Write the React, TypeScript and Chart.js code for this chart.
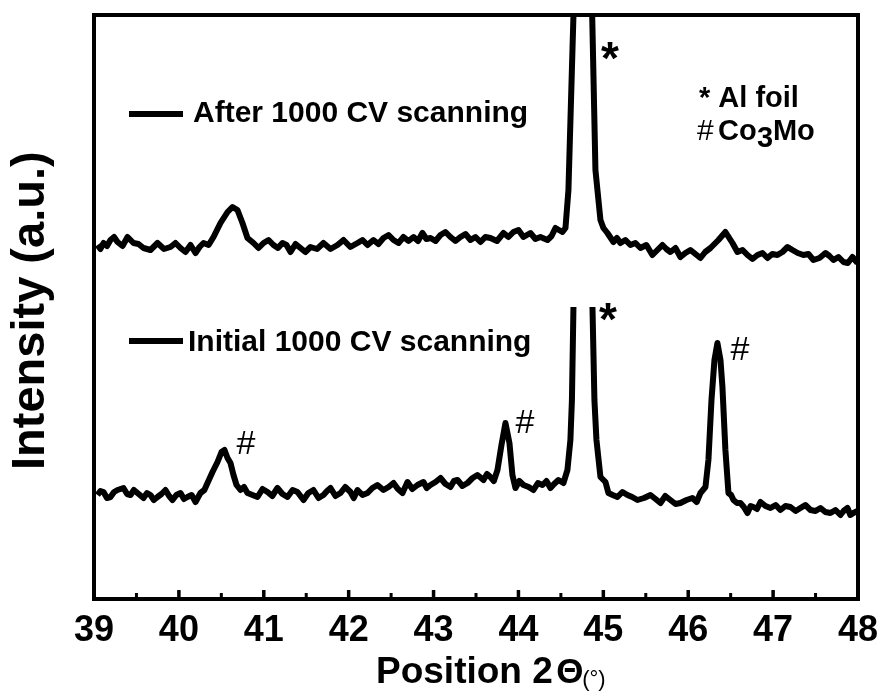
import React, { useEffect, useRef } from 'react';
import { Chart, registerables } from 'chart.js';

Chart.register(...registerables);

// ---------- data ----------
const X_MIN = 39;
const X_MAX = 48;
const xTickValues = [39, 40, 41, 42, 43, 44, 45, 46, 47, 48];

const afterLabel = 'After 1000 CV scanning';
const initialLabel = 'Initial 1000 CV scanning';

// [2θ (deg), intensity (a.u.)]
const afterScan: [number, number][] = [
  [39.041, 354], [39.076, 350], [39.112, 356], [39.153, 353], [39.194, 359], [39.236, 362], [39.277, 357], [39.336, 353], [39.395, 362], [39.430, 359],
  [39.465, 356], [39.524, 355], [39.583, 351], [39.665, 349], [39.748, 356], [39.825, 350], [39.901, 352], [39.960, 356], [40.019, 351], [40.078, 347],
  [40.137, 354], [40.196, 346], [40.243, 352], [40.290, 356], [40.350, 354], [40.408, 362], [40.490, 376], [40.573, 387], [40.631, 392], [40.690, 389],
  [40.749, 376], [40.808, 361], [40.879, 356], [40.938, 351], [40.997, 356], [41.056, 359], [41.114, 354], [41.167, 351], [41.220, 356], [41.268, 354],
  [41.315, 347], [41.374, 355], [41.432, 351], [41.490, 347], [41.550, 352], [41.627, 350], [41.703, 356], [41.786, 350], [41.868, 354], [41.939, 359],
  [42.020, 352], [42.104, 356], [42.163, 359], [42.222, 354], [42.292, 359], [42.350, 355], [42.410, 361], [42.470, 364], [42.528, 359], [42.587, 356],
  [42.646, 362], [42.705, 358], [42.764, 362], [42.817, 358], [42.869, 366], [42.916, 360], [42.964, 361], [43.023, 358], [43.082, 364], [43.140, 367],
  [43.199, 362], [43.258, 358], [43.317, 362], [43.376, 365], [43.435, 359], [43.494, 362], [43.553, 357], [43.610, 362], [43.670, 361], [43.747, 358],
  [43.824, 366], [43.882, 362], [43.941, 367], [44.000, 369], [44.059, 362], [44.141, 366], [44.200, 360], [44.259, 362], [44.342, 359], [44.390, 363],
  [44.436, 371], [44.518, 367], [44.554, 371], [44.589, 409], [44.660, 619], [44.760, 999], [44.860, 619], [44.907, 429], [44.966, 379], [45.001, 371],
  [45.048, 366], [45.119, 357], [45.160, 361], [45.201, 356], [45.260, 359], [45.319, 354], [45.378, 356], [45.437, 351], [45.507, 354], [45.578, 344],
  [45.637, 349], [45.696, 354], [45.743, 350], [45.790, 347], [45.850, 351], [45.908, 342], [45.967, 346], [46.026, 349], [46.085, 345], [46.144, 341],
  [46.200, 347], [46.262, 351], [46.356, 359], [46.438, 367], [46.521, 356], [46.580, 347], [46.640, 349], [46.698, 344], [46.757, 340], [46.816, 344],
  [46.875, 346], [46.934, 341], [46.990, 345], [47.051, 344], [47.110, 347], [47.170, 352], [47.228, 349], [47.290, 346], [47.357, 344], [47.416, 345],
  [47.475, 339], [47.546, 341], [47.617, 346], [47.664, 343], [47.711, 339], [47.770, 342], [47.829, 337], [47.880, 336], [47.935, 342], [47.994, 336],
];

// null marks the break of the truncated Al reflection
const initialScan: [number, number | null][] = [
  [39.041, 104], [39.076, 108], [39.112, 107], [39.153, 101], [39.194, 102], [39.236, 107], [39.277, 109], [39.347, 111], [39.390, 105], [39.430, 104],
  [39.470, 109], [39.512, 106], [39.583, 101], [39.625, 106], [39.665, 104], [39.705, 99], [39.748, 102], [39.795, 105], [39.842, 109], [39.885, 103],
  [39.925, 99], [39.970, 104], [40.019, 106], [40.060, 100], [40.101, 102], [40.150, 104], [40.196, 97], [40.254, 106], [40.300, 109], [40.337, 116],
  [40.396, 127], [40.455, 137], [40.502, 147], [40.537, 149], [40.573, 141], [40.608, 136], [40.643, 124], [40.679, 114], [40.726, 109], [40.767, 112],
  [40.808, 106], [40.867, 104], [40.926, 102], [40.985, 110], [41.044, 107], [41.100, 103], [41.161, 111], [41.220, 105], [41.279, 102], [41.340, 109],
  [41.397, 107], [41.468, 99], [41.525, 106], [41.585, 109], [41.645, 101], [41.703, 104], [41.745, 108], [41.786, 111], [41.845, 103], [41.904, 106],
  [41.960, 112], [42.021, 107], [42.060, 101], [42.104, 109], [42.163, 104], [42.222, 106], [42.280, 111], [42.339, 114], [42.410, 109], [42.470, 112],
  [42.528, 116], [42.580, 110], [42.634, 106], [42.693, 117], [42.750, 110], [42.811, 114], [42.881, 117], [42.920, 111], [42.964, 114], [43.023, 117],
  [43.082, 121], [43.140, 115], [43.199, 112], [43.240, 118], [43.282, 119], [43.340, 113], [43.400, 116], [43.460, 121], [43.517, 124], [43.588, 119],
  [43.630, 125], [43.670, 122], [43.710, 118], [43.753, 129], [43.800, 154], [43.847, 176], [43.894, 156], [43.929, 124], [43.965, 111], [44.010, 118],
  [44.059, 114], [44.120, 112], [44.177, 109], [44.230, 116], [44.283, 114], [44.330, 118], [44.377, 111], [44.420, 115], [44.471, 119], [44.530, 116],
  [44.577, 129], [44.612, 159], [44.630, 199], [44.648, 292], [44.760, null], [44.872, 292], [44.895, 199], [44.919, 159], [44.966, 122], [45.025, 117],
  [45.060, 106], [45.110, 104], [45.166, 102], [45.225, 107], [45.284, 104], [45.340, 102], [45.402, 99], [45.480, 101], [45.555, 104], [45.615, 100],
  [45.673, 96], [45.730, 103], [45.790, 99], [45.850, 95], [45.908, 96], [45.980, 99], [46.049, 101], [46.100, 97], [46.144, 106], [46.203, 112],
  [46.238, 139], [46.274, 199], [46.309, 239], [46.344, 256], [46.380, 239], [46.403, 212], [46.438, 149], [46.474, 106], [46.505, 104], [46.533, 99],
  [46.575, 96], [46.615, 96], [46.655, 92], [46.698, 86], [46.735, 93], [46.768, 92], [46.810, 90], [46.851, 97], [46.910, 93], [46.969, 91],
  [47.030, 94], [47.086, 89], [47.145, 93], [47.204, 92], [47.265, 88], [47.322, 91], [47.380, 94], [47.440, 89], [47.500, 88], [47.558, 91],
  [47.615, 87], [47.675, 86], [47.735, 89], [47.793, 84], [47.830, 88], [47.876, 91], [47.910, 84], [47.946, 86], [47.994, 88],
];

// annotation marks (data coordinates)
const starMarks = [
  { x: 45.078, y: 548 },
  { x: 45.055, y: 287 },
];
const hashMarks = [
  { x: 40.79, y: 157 },
  { x: 44.077, y: 178 },
  { x: 46.61, y: 251 },
];

const FONT = '"Liberation Sans", Arial, Helvetica, sans-serif';

function inkCenter(ctx: CanvasRenderingContext2D, text: string, cx: number, cy: number) {
  ctx.textAlign = 'left';
  ctx.textBaseline = 'alphabetic';
  const m = ctx.measureText(text);
  const w = m.actualBoundingBoxLeft + m.actualBoundingBoxRight;
  const h = m.actualBoundingBoxAscent + m.actualBoundingBoxDescent;
  ctx.fillText(text, cx - w / 2 + m.actualBoundingBoxLeft, cy - h / 2 + m.actualBoundingBoxAscent);
}

function textAt(ctx: CanvasRenderingContext2D, text: string, xLeft: number, baseline: number) {
  ctx.textAlign = 'left';
  ctx.textBaseline = 'alphabetic';
  const m = ctx.measureText(text);
  ctx.fillText(text, xLeft + m.actualBoundingBoxLeft, baseline);
  return xLeft + m.actualBoundingBoxLeft + m.actualBoundingBoxRight;
}

const decorPlugin = {
  id: 'decor',
  afterDatasetsDraw(chart: any) {
    const { ctx, chartArea: a, scales } = chart;
    const xs = scales.x;
    const ys = scales.y;
    ctx.save();
    ctx.fillStyle = '#000';
    ctx.strokeStyle = '#000';

    // frame
    ctx.lineWidth = 4;
    ctx.strokeRect(a.left, a.top, a.right - a.left, a.bottom - a.top);

    // inward ticks on bottom axis
    for (let v = X_MIN + 0.5; v < X_MAX - 0.01; v += 0.5) {
      const px = xs.getPixelForValue(v);
      const major = Math.abs(v - Math.round(v)) < 1e-6;
      ctx.lineWidth = major ? 3.5 : 3;
      ctx.beginPath();
      ctx.moveTo(px, a.bottom);
      ctx.lineTo(px, a.bottom - (major ? 9 : 6));
      ctx.stroke();
    }

    // legend entries
    const ds = chart.data.datasets;
    const legendRows = [
      { label: ds[0].label, lineY: 114, textX: 193, base: 122 },
      { label: ds[1].label, lineY: 341, textX: 190, base: 351 },
    ];
    ctx.font = `bold 30px ${FONT}`;
    for (const r of legendRows) {
      ctx.lineWidth = 6;
      ctx.lineCap = 'butt';
      ctx.beginPath();
      ctx.moveTo(129, r.lineY);
      ctx.lineTo(183, r.lineY);
      ctx.stroke();
      textAt(ctx, r.label, r.textX, r.base);
    }

    // phase key
    ctx.font = `bold 29px ${FONT}`;
    textAt(ctx, '* Al foil', 699, 107);
    ctx.font = `30px ${FONT}`;
    let cx = textAt(ctx, '#', 697, 140);
    ctx.font = `bold 29px ${FONT}`;
    cx = textAt(ctx, 'Co', cx + 5, 140);
    cx = textAt(ctx, '3', cx + 1, 147);
    textAt(ctx, 'Mo', cx + 1, 140);

    // peak markers
    ctx.font = `bold 46px ${FONT}`;
    for (const s of starMarks) inkCenter(ctx, '*', xs.getPixelForValue(s.x), ys.getPixelForValue(s.y));
    ctx.font = `34px ${FONT}`;
    for (const h of hashMarks) inkCenter(ctx, '#', xs.getPixelForValue(h.x), ys.getPixelForValue(h.y));

    // x-axis title
    ctx.font = `bold 37px ${FONT}`;
    let tx = textAt(ctx, 'Position 2', 378, 683);
    ctx.font = `bold 35px ${FONT}`;
    tx = textAt(ctx, 'Θ', tx + 5, 683);
    ctx.font = `22px ${FONT}`;
    textAt(ctx, '(°)', tx + 1, 686);

    // y-axis title
    ctx.font = `bold 47px ${FONT}`;
    ctx.translate(32, 310);
    ctx.rotate(-Math.PI / 2);
    inkCenter(ctx, 'Intensity (a.u.)', 0, 0);
    ctx.restore();
  },
};

export default function App() {
  const ref = useRef<HTMLCanvasElement | null>(null);

  useEffect(() => {
    document.body.style.margin = '0';
    const canvas = ref.current;
    if (!canvas) return;
    const lineStyle = {
      borderColor: '#000',
      borderWidth: 6,
      pointRadius: 0,
      tension: 0,
      borderJoinStyle: 'round',
      spanGaps: false,
      clip: 0,
    };
    const chart = new Chart(canvas, {
      type: 'line',
      data: {
        datasets: [
          { label: afterLabel, data: afterScan.map(([x, y]) => ({ x, y })), ...lineStyle },
          { label: initialLabel, data: initialScan.map(([x, y]) => ({ x, y })), ...lineStyle },
        ],
      } as any,
      options: {
        responsive: false,
        animation: false,
        events: [],
        layout: { padding: { top: 15, right: 24, left: 0, bottom: 0 } },
        scales: {
          x: {
            type: 'linear',
            min: X_MIN,
            max: X_MAX,
            afterBuildTicks: (s: any) => {
              s.ticks = xTickValues.map((v) => ({ value: v }));
            },
            ticks: {
              color: '#000',
              font: { family: FONT, size: 36, weight: 'bold' },
              padding: 2,
              maxRotation: 0,
              autoSkip: false,
            },
            grid: { display: false },
            border: { display: false },
            afterFit: (s: any) => {
              s.height = 92;
              s.paddingLeft = 0;
              s.paddingRight = 0;
            },
          },
          y: {
            min: 0,
            max: 584,
            ticks: { display: false },
            grid: { display: false },
            border: { display: false },
            afterFit: (s: any) => {
              s.width = 94;
            },
          },
        },
        plugins: {
          legend: { display: false },
          tooltip: { enabled: false },
        },
      } as any,
      plugins: [decorPlugin],
    });
    return () => chart.destroy();
  }, []);

  return (
    <div style={{ position: 'absolute', left: 0, top: 0, width: 882, height: 691, background: '#fff' }}>
      <canvas ref={ref} width={882} height={691} style={{ display: 'block', width: 882, height: 691 }} />
    </div>
  );
}
